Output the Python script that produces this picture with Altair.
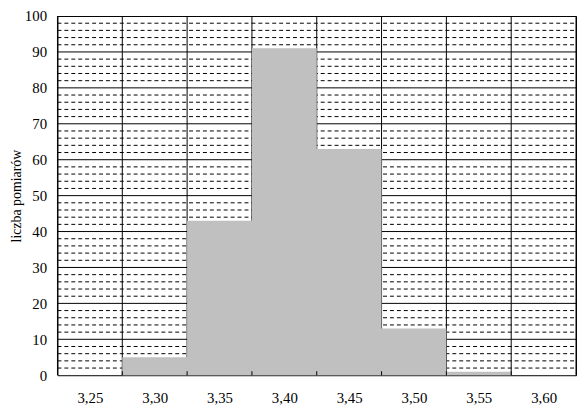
import json
import altair as alt
import pandas as pd

labels = ["3,25", "3,30", "3,35", "3,40", "3,45", "3,50", "3,55", "3,60"]
counts = [0, 5, 43, 91, 63, 13, 1, 0]
y_major = [10, 20, 30, 40, 50, 60, 70, 80, 90]
y_minor = [v for v in range(2, 100, 2) if v % 10 != 0]
y_ticks = list(range(0, 101, 10))

W, H = 524, 363
n = len(labels)

# step outline of the histogram: value of each class held until the next class edge
hist = pd.DataFrame({"pos": list(range(n + 1)), "val": counts + [counts[-1]]})
vgrid = pd.DataFrame({"pos": list(range(n + 1))})
inner = pd.DataFrame({"pos": list(range(1, n))})
hmaj = pd.DataFrame({"val": y_major})
hmin = pd.DataFrame({"val": y_minor})

FONT = "Liberation Serif"
FS = 15
label_expr = json.dumps(labels) + "[round(datum.value - 0.5)]"

x_scale = alt.Scale(domain=[0, n], nice=False, zero=False)
y_scale = alt.Scale(domain=[0, 100], nice=False)

x_axis = alt.Axis(values=[i + 0.5 for i in range(n)], labelExpr=label_expr, ticks=False,
                  domain=False, grid=False, title=None, labelFont=FONT, labelFontSize=FS,
                  labelPadding=16, labelColor="black")
y_axis = alt.Axis(values=y_ticks, ticks=False, domain=False, grid=False,
                  title="liczba pomiarów", titleFont=FONT, titleFontSize=14,
                  titleFontWeight="normal", titleColor="black", titlePadding=1,
                  labelFont=FONT, labelFontSize=FS, labelPadding=11, labelColor="black")

def X(field="pos"):
    return alt.X(f"{field}:Q", scale=x_scale, axis=x_axis)

def Y():
    return alt.Y("val:Q", scale=y_scale, axis=y_axis)

l_vgrid = alt.Chart(vgrid).mark_rule(color="black", strokeWidth=1).encode(
    x=X(), y=alt.value(0), y2=alt.value(H))
l_hmin = alt.Chart(hmin).mark_rule(color="black", strokeWidth=1, strokeDash=[4, 3]).encode(
    y=Y(), x=alt.value(0), x2=alt.value(W))
l_hmaj = alt.Chart(hmaj).mark_rule(color="black", strokeWidth=1).encode(
    y=Y(), x=alt.value(0), x2=alt.value(W))
l_hist = alt.Chart(hist).mark_area(color="#c0c0c0", interpolate="step-after", opacity=1).encode(
    x=X(), y=Y())
l_ticks = alt.Chart(inner).mark_rule(color="black", strokeWidth=1).encode(
    x=X(), y=alt.value(H), y2=alt.value(H - 4))

chart = alt.layer(l_vgrid, l_hmin, l_hmaj, l_hist, l_ticks).properties(
    width=W, height=H,
    autosize=alt.AutoSizeParams(type="none"),
    padding={"left": 50, "top": 6, "right": 1, "bottom": 30},
    background="white",
).configure_view(stroke="black", strokeWidth=1)

chart.save("out.html", embed_options={"renderer": "svg", "actions": False})
